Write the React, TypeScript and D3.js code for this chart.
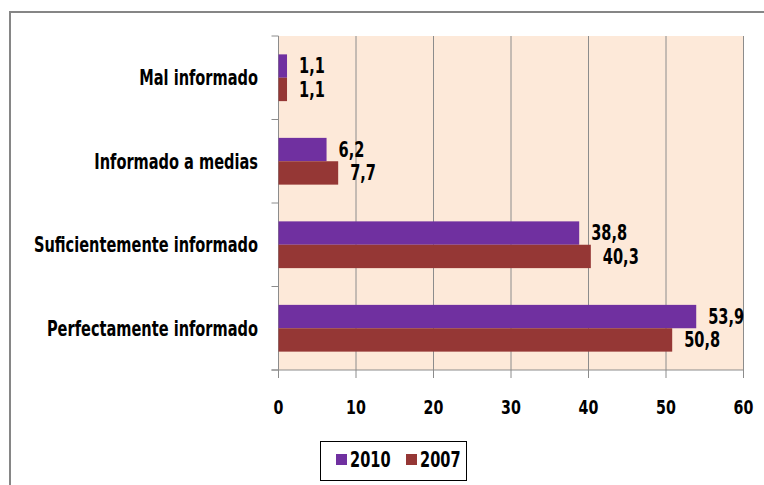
import { useEffect, useRef } from "react";
import * as d3 from "d3";

const categories = [
  "Mal informado",
  "Informado a medias",
  "Suficientemente informado",
  "Perfectamente informado",
];
const series = ["2010", "2007"];
const values2010 = [1.1, 6.2, 38.8, 53.9];
const values2007 = [1.1, 7.7, 40.3, 50.8];
const xTicks = [0, 10, 20, 30, 40, 50, 60];
const colors = ["#7030A0", "#953735"];

// no Arial Narrow here, so squeeze a condensed bold face horizontally
const FONT = "'Liberation Sans Narrow', 'DejaVu Sans Condensed', 'DejaVu Sans', sans-serif";
const SQUEEZE = 0.79;

export default function App() {
  const svgRef = useRef<SVGSVGElement>(null);

  useEffect(() => {
    const svg = d3.select(svgRef.current);
    svg.selectAll("*").remove();

    const width = 764;
    const height = 485;
    const left = 278.5;
    const right = 743.5;
    const top = 36;
    const bottom = 370;

    const label = (sel: any, size: number) =>
      sel
        .attr("font-family", FONT)
        .attr("font-weight", "bold")
        .attr("font-size", size + "px")
        .attr("fill", "#000");

    // outer frame, runs off the right and bottom
    svg
      .append("rect")
      .attr("x", 10)
      .attr("y", 12)
      .attr("width", width)
      .attr("height", height)
      .attr("fill", "#fff")
      .attr("stroke", "#868686")
      .attr("stroke-width", 2);

    const x = d3.scaleLinear().domain([0, 60]).range([left, right]);
    const y = d3.scaleBand().domain(categories).range([top, bottom]).paddingInner(0.44).paddingOuter(0.22);
    const ySub = d3.scaleBand().domain(series).range([0, y.bandwidth()]);

    svg
      .append("rect")
      .attr("x", left)
      .attr("y", top)
      .attr("width", right - left)
      .attr("height", bottom - top)
      .attr("fill", "#FDE9D9");

    // vertical gridlines
    svg
      .selectAll("line.grid")
      .data(xTicks.slice(1))
      .enter()
      .append("line")
      .attr("x1", (d) => x(d))
      .attr("x2", (d) => x(d))
      .attr("y1", top)
      .attr("y2", bottom)
      .attr("stroke", "#8c8c8c")
      .attr("stroke-width", 1);

    // axes
    svg
      .append("line")
      .attr("x1", left)
      .attr("x2", left)
      .attr("y1", top)
      .attr("y2", bottom + 8)
      .attr("stroke", "#8c8c8c");
    svg
      .append("line")
      .attr("x1", left - 7)
      .attr("x2", right)
      .attr("y1", bottom)
      .attr("y2", bottom)
      .attr("stroke", "#8c8c8c");

    // bottom tick marks + labels
    const xt = svg.selectAll("g.xt").data(xTicks).enter().append("g");
    xt.append("line")
      .attr("x1", (d) => x(d))
      .attr("x2", (d) => x(d))
      .attr("y1", bottom)
      .attr("y2", bottom + 8)
      .attr("stroke", "#8c8c8c");
    label(
      xt
        .append("text")
        .attr("transform", (d) => `translate(${x(d)},414) scale(${SQUEEZE},1)`)
        .attr("text-anchor", "middle")
        .text((d) => d),
      20
    );

    // category tick marks on the left
    const step = (bottom - top) / categories.length;
    svg
      .selectAll("line.yt")
      .data(d3.range(categories.length + 1))
      .enter()
      .append("line")
      .attr("x1", left - 7)
      .attr("x2", left)
      .attr("y1", (i) => top + i * step)
      .attr("y2", (i) => top + i * step)
      .attr("stroke", "#8c8c8c");

    label(
      svg
        .selectAll("text.cat")
        .data(categories)
        .enter()
        .append("text")
        .attr("transform", (d) => `translate(258,${y(d)! + y.bandwidth() / 2}) scale(${SQUEEZE},1)`)
        .attr("dy", "0.36em")
        .attr("text-anchor", "end")
        .text((d) => d),
      20.5
    );

    const rows = categories.map((c, i) => ({
      cat: c,
      vals: [values2010[i], values2007[i]],
    }));

    const g = svg
      .selectAll("g.row")
      .data(rows)
      .enter()
      .append("g")
      .attr("transform", (d) => `translate(0,${y(d.cat)})`);

    series.forEach((s, si) => {
      g.append("rect")
        .attr("x", left)
        .attr("y", ySub(s)!)
        .attr("width", (d) => x(d.vals[si]) - left)
        .attr("height", ySub.bandwidth())
        .attr("fill", colors[si]);
      label(
        g
          .append("text")
          .attr(
            "transform",
            (d) => `translate(${x(d.vals[si]) + 12},${ySub(s)! + ySub.bandwidth() / 2}) scale(${SQUEEZE},1)`
          )
          .attr("dy", "0.36em")
          .text((d) => String(d.vals[si]).replace(".", ",")),
        20.5
      );
    });

    // legend
    const lg = svg.append("g");
    lg.append("rect")
      .attr("x", 320.5)
      .attr("y", 441.5)
      .attr("width", 146)
      .attr("height", 39)
      .attr("fill", "#fff")
      .attr("stroke", "#000")
      .attr("stroke-width", 1);
    const lx = [336, 406];
    series.forEach((s, i) => {
      lg.append("rect")
        .attr("x", lx[i])
        .attr("y", 454)
        .attr("width", 11)
        .attr("height", 11)
        .attr("fill", colors[i]);
      label(
        lg
          .append("text")
          .attr("transform", `translate(${lx[i] + 14},460) scale(${SQUEEZE},1)`)
          .attr("dy", "0.36em")
          .text(s),
        20.5
      );
    });
  }, []);

  return (
    <svg
      ref={svgRef}
      width={764}
      height={485}
      style={{ position: "absolute", left: 0, top: 0 }}
    />
  );
}
